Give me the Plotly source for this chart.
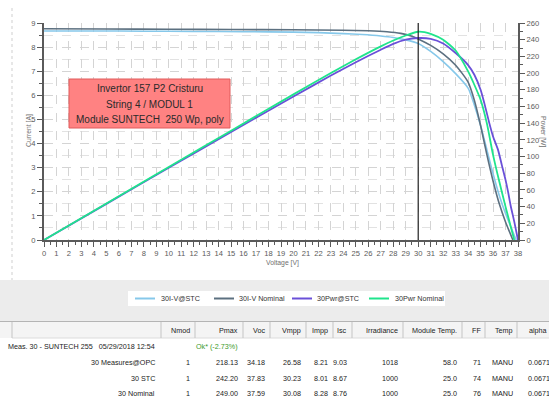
import glob
import plotly.graph_objects as go

# ---------------- data ----------------
V_IV_STC = [0, 4, 8, 12, 16, 20, 22, 24, 25.5, 27, 28, 29, 30, 31, 32, 33, 34, 34.5, 35, 35.5, 36, 36.5, 37, 37.5, 37.85]
I_IV_STC = [8.67, 8.67, 8.66, 8.65, 8.64, 8.62, 8.60, 8.56, 8.52, 8.46, 8.40, 8.30, 8.15, 7.82, 7.40, 6.90, 6.30, 5.60, 4.75, 3.75, 2.75, 1.85, 1.10, 0.45, 0]

V_IV_NOM = [0, 5, 10, 15, 20, 24, 26, 27.5, 28.6, 29.5, 30, 31, 32, 33, 34, 34.5, 35, 35.5, 36, 36.5, 37, 37.59]
I_IV_NOM = [8.76, 8.75, 8.74, 8.73, 8.72, 8.70, 8.68, 8.64, 8.57, 8.45, 8.34, 8.07, 7.72, 7.25, 6.55, 5.80, 4.75, 3.55, 2.45, 1.50, 0.75, 0]

V_PWR_STC = [0, 5, 10, 15, 20, 23, 25, 27, 28, 29, 30, 31, 32, 33, 34, 34.5, 35, 35.3, 35.7, 36, 36.4, 36.7, 37, 37.2, 37.4, 37.7, 38]
P_PWR_STC = [0, 43.3, 86.5, 129.5, 172, 197, 213, 228, 235, 240, 242, 241, 235.5, 224, 209.6, 198, 180, 164, 140, 124, 108, 90, 72, 58, 42, 22, 0]

V_PWR_NOM = [0, 5, 10, 15, 20, 23, 25, 27, 28, 29, 30, 30.5, 31, 32, 33, 34, 34.5, 35, 35.5, 36, 36.5, 37, 37.4, 37.7]
P_PWR_NOM = [0, 43.8, 87.5, 131, 174.5, 200, 216.5, 232, 239, 245, 249.5, 249, 247, 240, 227, 202, 186, 168, 140, 102, 70, 40, 17, 0]

SERIES_NAMES = ["30I-V@STC", "30I-V Nominal", "30Pwr@STC", "30Pwr Nominal"]
MARK_VOLTAGE = 30

BOX_LINES = ["Invertor 157 P2 Cristuru", "String 4 / MODUL 1", "Module SUNTECH  250 Wp, poly"]

TABLE_HEADERS = ["", "Nmod", "Pmax", "Voc", "Vmpp", "Impp", "Isc", "Irradiance", "Module Temp.", "FF", "Temp", "alpha"]
ROW_LABELS = ["Meas. 30 - SUNTECH 255   05/29/2018 12:54", "30 Measures@OPC", "30 STC", "30 Nominal"]
COL_NMOD = ["", "1", "1", "1"]
COL_PMAX = ["Ok* (-2.73%)", "218.13", "242.20", "249.00"]
COL_VOC = ["", "34.18", "37.83", "37.59"]
COL_VMPP = ["", "26.58", "30.23", "30.08"]
COL_IMPP = ["", "8.21", "8.01", "8.28"]
COL_ISC = ["", "9.03", "8.67", "8.76"]
COL_IRR = ["", "1018", "1000", "1000"]
COL_MTEMP = ["", "58.0", "25.0", "25.0"]
COL_FF = ["", "71", "74", "76"]
COL_TEMP = ["", "MANU", "MANU", "MANU"]
COL_ALPHA = ["", "0.0671", "0.0671", "0.0671"]

# ---------------- fonts ----------------
narrow = bool(glob.glob('/usr/share/fonts/**/LiberationSansNarrow*', recursive=True))
FN = "Liberation Sans Narrow" if narrow else "Liberation Sans"
K = 1.0 if narrow else 0.8
REG = "Liberation Sans"

# ---------------- layout helpers (pixel -> paper) ----------------
W, H = 549, 398
PL, PR, PT, PB = 44, 518, 23, 240
def px(x):
    return (x - PL) / (PR - PL)
def py(y):
    return (PB - y) / (PB - PT)

C_STC = "#86c8ea"
C_NOM = "#5c7080"
C_PSTC = "#6a50d8"
C_PNOM = "#1fe48c"
COLORS = [C_STC, C_NOM, C_PSTC, C_PNOM]

fig = go.Figure()
fig.add_trace(go.Scatter(x=V_IV_STC, y=I_IV_STC, name=SERIES_NAMES[0], mode="lines",
                         line=dict(color=C_STC, width=1.6, shape="spline", smoothing=0.6)))
fig.add_trace(go.Scatter(x=V_IV_NOM, y=I_IV_NOM, name=SERIES_NAMES[1], mode="lines",
                         line=dict(color=C_NOM, width=1.6, shape="spline", smoothing=0.6)))
fig.add_trace(go.Scatter(x=V_PWR_STC, y=P_PWR_STC, name=SERIES_NAMES[2], mode="lines", yaxis="y2",
                         line=dict(color=C_PSTC, width=1.8, shape="spline", smoothing=0.6)))
fig.add_trace(go.Scatter(x=V_PWR_NOM, y=P_PWR_NOM, name=SERIES_NAMES[3], mode="lines", yaxis="y2",
                         line=dict(color=C_PNOM, width=1.8, shape="spline", smoothing=0.6)))

tickfont = dict(family=FN, size=9.5 * K, color="#5a5a5a")
AX = "#5a5a5a"
GRID = "#d4d4d4"

fig.update_layout(
    width=W, height=H,
    margin=dict(l=PL, r=W - PR, t=PT, b=H - PB, autoexpand=False),
    paper_bgcolor="white", plot_bgcolor="white",
    xaxis=dict(range=[0, 38], tickmode="linear", tick0=0, dtick=1, showline=True, linecolor=AX, linewidth=2,
               ticks="outside", ticklen=5, tickcolor=AX, tickwidth=1, tickfont=tickfont,
               showgrid=True, gridcolor=GRID, griddash="dash", gridwidth=1, zeroline=False,
               minor=dict(dtick=0.5, ticks="outside", ticklen=3, tickcolor=AX, showgrid=False)),
    yaxis=dict(range=[0, 9], tickmode="linear", tick0=0, dtick=1, showline=True, linecolor=AX, linewidth=2,
               ticks="outside", ticklen=5, tickcolor=AX, tickfont=tickfont,
               showgrid=True, gridcolor=GRID, griddash="dash", zeroline=False,
               minor=dict(dtick=0.5, ticks="outside", ticklen=3, tickcolor=AX, showgrid=True,
                          gridcolor="#e2e2e2", griddash="dash")),
    yaxis2=dict(range=[0, 260], tickmode="linear", tick0=0, dtick=20, overlaying="y", side="right",
                showline=True, linecolor=AX, linewidth=2, ticks="outside", ticklen=5, tickcolor=AX,
                tickfont=tickfont, showgrid=False, zeroline=False,
                minor=dict(dtick=10, ticks="outside", ticklen=3, tickcolor=AX)),
    showlegend=False,
)

shapes = []
# gray band under chart
shapes.append(dict(type="rect", xref="paper", yref="paper", x0=px(0), x1=px(W), y0=py(280), y1=py(321),
                   fillcolor="#ececec", line=dict(width=0), layer="below"))
# legend box
shapes.append(dict(type="rect", xref="paper", yref="paper", x0=px(128), x1=px(445), y0=py(306), y1=py(291),
                   fillcolor="white", line=dict(width=0), layer="below"))
LEG_LINE_X = [135, 214, 292, 369]
LEG_TEXT_X = [159, 237, 315, 393]
for c, lx in zip(COLORS, LEG_LINE_X):
    shapes.append(dict(type="line", xref="paper", yref="paper", x0=px(lx), x1=px(lx + 20), y0=py(298.5),
                       y1=py(298.5), line=dict(color=c, width=2)))
# table header
shapes.append(dict(type="rect", xref="paper", yref="paper", x0=px(0), x1=px(W), y0=py(322), y1=py(338),
                   fillcolor="#f4f4f4", line=dict(width=0), layer="below"))
shapes.append(dict(type="line", xref="paper", yref="paper", x0=px(0), x1=px(W), y0=py(321.5), y1=py(321.5),
                   line=dict(color="#b4b4b4", width=1)))
shapes.append(dict(type="line", xref="paper", yref="paper", x0=px(12), x1=px(W), y0=py(338), y1=py(338),
                   line=dict(color="#dcdcdc", width=1)))
SEPS = [12, 161, 195, 243, 270, 306, 333, 352, 403, 462, 485, 517]
for s in SEPS:
    shapes.append(dict(type="line", xref="paper", yref="paper", x0=px(s), x1=px(s), y0=py(322), y1=py(338),
                       line=dict(color="#c4c4c4", width=1)))
# dotted left border of chart panel
shapes.append(dict(type="line", xref="paper", yref="paper", x0=px(12), x1=px(12), y0=py(8), y1=py(280),
                   line=dict(color="#cfcfcf", width=1, dash="dot")))
# vertical marker at 30 V
shapes.append(dict(type="line", xref="x", yref="paper", x0=MARK_VOLTAGE, x1=MARK_VOLTAGE, y0=0, y1=1,
                   line=dict(color="#222222", width=1.2)))
# red info box
shapes.append(dict(type="rect", xref="paper", yref="paper", x0=px(69), x1=px(230), y0=py(128), y1=py(79),
                   fillcolor="#ff8282", line=dict(color="#e05a5a", width=1)))
fig.update_layout(shapes=shapes)

ann = []
for i, t in enumerate(BOX_LINES):
    ann.append(dict(text=t, xref="paper", yref="paper", x=px(149.5), y=py(88 + 16 * i), xanchor="center",
                    yanchor="middle", showarrow=False, font=dict(family=REG, size=10, color="#2a2a2a")))
# legend texts
legfont = dict(family=FN, size=9 * K, color="#333")
for name, tx in zip(SERIES_NAMES, LEG_TEXT_X):
    ann.append(dict(text=name, xref="paper", yref="paper", x=px(tx), y=py(298.5), xanchor="left",
                    yanchor="middle", showarrow=False, font=legfont))
# axis titles
tfont = dict(family=FN, size=8.5 * K, color="#707070")
ann.append(dict(text="Voltage [V]", xref="paper", yref="paper", x=px(282), y=py(263), xanchor="center",
                yanchor="middle", showarrow=False, font=tfont))
ann.append(dict(text="Current [A]", xref="paper", yref="paper", x=px(29), y=py(131), xanchor="center",
                yanchor="middle", showarrow=False, font=tfont, textangle=-90))
ann.append(dict(text="Power [W]", xref="paper", yref="paper", x=px(543), y=py(131), xanchor="center",
                yanchor="middle", showarrow=False, font=tfont, textangle=90))

# table
tabfont = dict(family=FN, size=9 * K, color="#222")
HDR_RIGHT = [157, 192, 240, 267, 303, 330, 349, 400, 459, 483, 515]
for h, xr in zip(TABLE_HEADERS[:-1], HDR_RIGHT):
    if h:
        ann.append(dict(text=h, xref="paper", yref="paper", x=px(xr), y=py(330), xanchor="right",
                        yanchor="middle", showarrow=False, font=tabfont))
ann.append(dict(text=TABLE_HEADERS[-1], xref="paper", yref="paper", x=px(527), y=py(330), xanchor="left",
                yanchor="middle", showarrow=False, font=tabfont))
ROW_Y = [346, 362, 378, 393]
COLS = [ROW_LABELS, COL_NMOD, COL_PMAX, COL_VOC, COL_VMPP, COL_IMPP, COL_ISC, COL_IRR, COL_MTEMP, COL_FF, COL_TEMP]
for col, xr in zip(COLS, HDR_RIGHT):
    for r, v in enumerate(col):
        if not v:
            continue
        f = dict(tabfont)
        if v.startswith("Ok"):
            f["color"] = "#3c9a2c"
        ann.append(dict(text=v, xref="paper", yref="paper", x=px(xr), y=py(ROW_Y[r]), xanchor="right",
                        yanchor="middle", showarrow=False, font=f))
for r, v in enumerate(COL_ALPHA):
    if v:
        ann.append(dict(text=v, xref="paper", yref="paper", x=px(526), y=py(ROW_Y[r]), xanchor="left",
                        yanchor="middle", showarrow=False, font=tabfont))
fig.update_layout(annotations=ann)

fig.write_html("out.html")
